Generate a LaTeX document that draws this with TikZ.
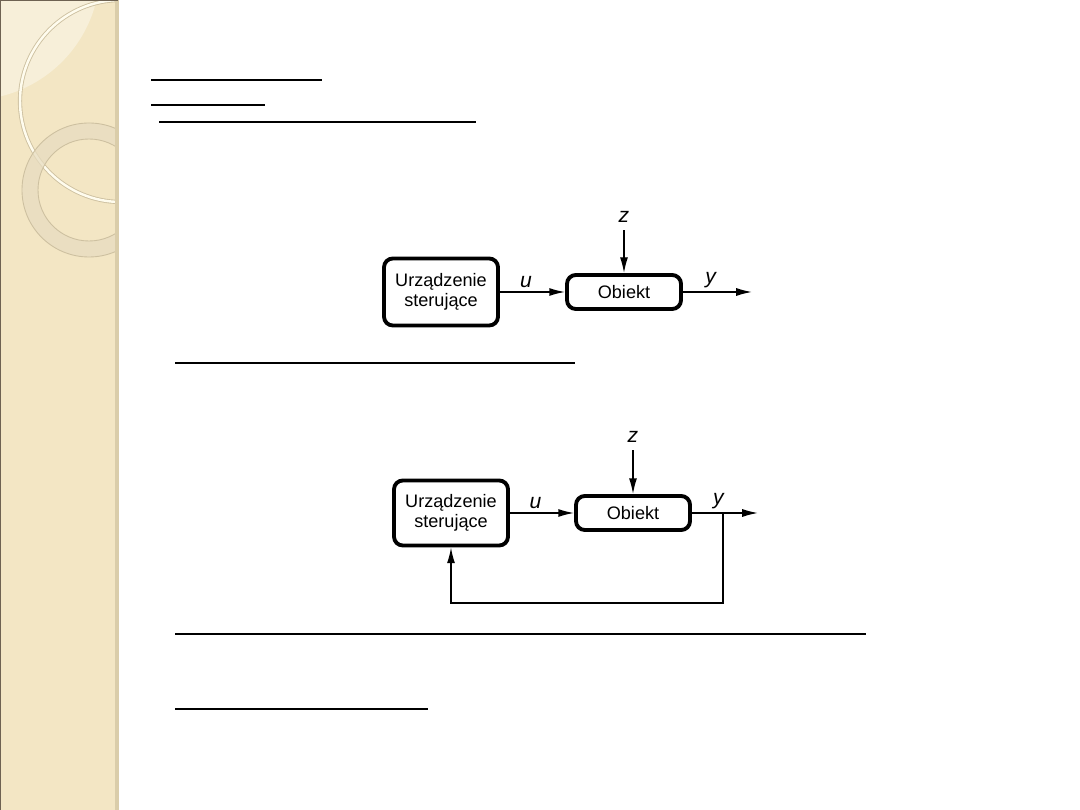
\documentclass[tikz,border=0pt]{standalone}
\usepackage{fontspec}
\setmainfont{Liberation Sans}
\usetikzlibrary{arrows.meta}
\definecolor{stripe}{RGB}{243,230,196}
\definecolor{stripelight}{RGB}{247,239,217}
\definecolor{stripeedge}{RGB}{218,205,170}
\definecolor{ringfill}{RGB}{231,220,192}
\definecolor{ringedge}{RGB}{205,192,160}
\definecolor{arcwhite}{RGB}{255,252,238}
\definecolor{frame}{RGB}{110,98,82}
\begin{document}
\begin{tikzpicture}[x=.02cm,y=-.02cm,line width=.85pt,
  block/.style={draw,line width=2.2pt,rounded corners=5pt,minimum width=2.28cm,align=center,inner sep=2pt,font=\fontsize{10.3}{11.5}\selectfont},
  sig/.style={-{Latex[length=9pt,width=4.6pt]}},
  sym/.style={font=\fontsize{12}{14}\selectfont\itshape,inner sep=1pt}]
  \useasboundingbox (0,0) rectangle (1080,810);
  % side stripe
  \fill[stripe] (0,0) rectangle (119,810);
  \begin{scope}
    \clip (0,0) rectangle (115,810);
    \fill[stripelight] (-30,-30) circle (130);
    \draw[ringedge,line width=2.4pt] (121,101) circle (101);
    \draw[arcwhite,line width=1.4pt] (121,101) circle (101);
    \fill[ringfill,opacity=.75,even odd rule] (89,190) circle (67) (89,190) circle (51);
    \draw[ringedge,line width=.5pt] (89,190) circle (67) (89,190) circle (51);
  \end{scope}
  \fill[stripeedge] (115,0) rectangle (119,810);
  \draw[frame,line width=1pt] (0,810) -- (0,0) -- (118,0);
  % underlines
  \foreach \xa/\xb/\yy/\lw in {151/322/80/.6pt,151/265/105/1.2pt,159/476/122/.8pt,
                                 175/575/363/.8pt,175/866/634/.8pt,175/428/709/.8pt}
    \draw[line width=\lw] (\xa,\yy) -- (\xb,\yy);
  % open loop
  \node[block,minimum height=1.34cm] (ctrlA) at (441,292) {Urządzenie\\sterujące};
  \node[block,minimum height=.68cm] (objA) at (624,292) {Obiekt};
  \node[sym] (zA) at (624,217) {z};
  \coordinate (outA) at (752,292);
  \draw[sig] (ctrlA) -- node[sym,above=1pt,pos=.4] (uA) {u} (objA);
  \draw[sig,shorten <=3pt] (zA) -- (objA);
  \draw[sig] (objA) -- node[sym,above=1pt,pos=.4] (yA) {y} (outA);
  % closed loop
  \node[block,minimum height=1.3cm] (ctrlB) at (451,513) {Urządzenie\\sterujące};
  \node[block,minimum height=.68cm] (objB) at (633,513) {Obiekt};
  \node[sym] (zB) at (633,437) {z};
  \coordinate (outB) at (758,513);
  \coordinate (brB) at (723,513);
  \coordinate (fbB) at (723,603);
  \draw[sig] (ctrlB) -- node[sym,above=1pt,pos=.4] (uB) {u} (objB);
  \draw[sig,shorten <=3pt] (zB) -- (objB);
  \draw[sig] (objB) -- node[sym,above=1pt,pos=.4] (yB) {y} (outB);
  \draw[sig] (brB) -- (fbB) -| (ctrlB.south);
\end{tikzpicture}
\end{document}
